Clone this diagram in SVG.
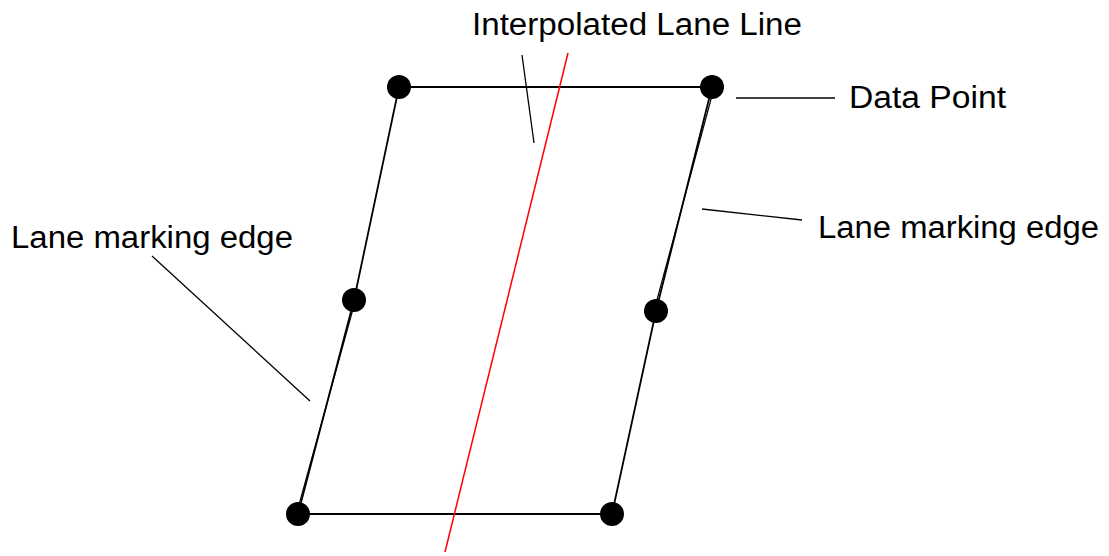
<svg xmlns="http://www.w3.org/2000/svg" width="1109" height="556" viewBox="0 0 1109 556">
<style>
.edge{stroke:#000;stroke-width:1.8;fill:none}
.thin{stroke:#000;stroke-width:1.2;fill:none}
.lead{stroke:#000;stroke-width:1.3;fill:none}
.red{stroke:#ff0000;stroke-width:1.5;fill:none}
.pt{fill:#000}
.lbl{font-family:"Liberation Sans",Arial,sans-serif;font-size:31px;fill:#000}
</style>
<rect width="1109" height="556" fill="#fff"/>
<g id="connectors">
<line class="edge" x1="399" y1="87" x2="712" y2="87"/>
<line class="edge" x1="298" y1="514" x2="612" y2="514"/>
<polyline class="edge" points="399,87 354,300 298,514"/>
<line class="thin" x1="297" y1="512" x2="356" y2="298"/>
<polyline class="edge" points="712,87 656,311 612,514"/>
<line class="thin" x1="714" y1="88" x2="654" y2="311"/>
<line class="red" x1="568" y1="53" x2="445" y2="552"/>
<line class="lead" x1="522" y1="55" x2="534" y2="143"/>
<line class="lead" x1="736" y1="98" x2="835" y2="98"/>
<line class="lead" x1="702" y1="209" x2="802" y2="220"/>
<line class="lead" x1="152" y1="256" x2="310" y2="401"/>
</g>
<g id="points">
<circle class="pt" cx="399" cy="87" r="12"/>
<circle class="pt" cx="712" cy="87" r="12"/>
<circle class="pt" cx="354" cy="300" r="12"/>
<circle class="pt" cx="656" cy="311" r="12"/>
<circle class="pt" cx="298" cy="514" r="12"/>
<circle class="pt" cx="612" cy="514" r="12"/>
</g>
<g id="label-interpolated"><text class="lbl" x="472" y="35" textLength="330" lengthAdjust="spacingAndGlyphs">Interpolated Lane Line</text></g>
<g id="label-datapoint"><text class="lbl" x="849" y="108" textLength="157" lengthAdjust="spacingAndGlyphs">Data Point</text></g>
<g id="label-edge-right"><text class="lbl" x="818" y="238" textLength="281" lengthAdjust="spacingAndGlyphs">Lane marking edge</text></g>
<g id="label-edge-left"><text class="lbl" x="11" y="248" textLength="282" lengthAdjust="spacingAndGlyphs">Lane marking edge</text></g>
</svg>
